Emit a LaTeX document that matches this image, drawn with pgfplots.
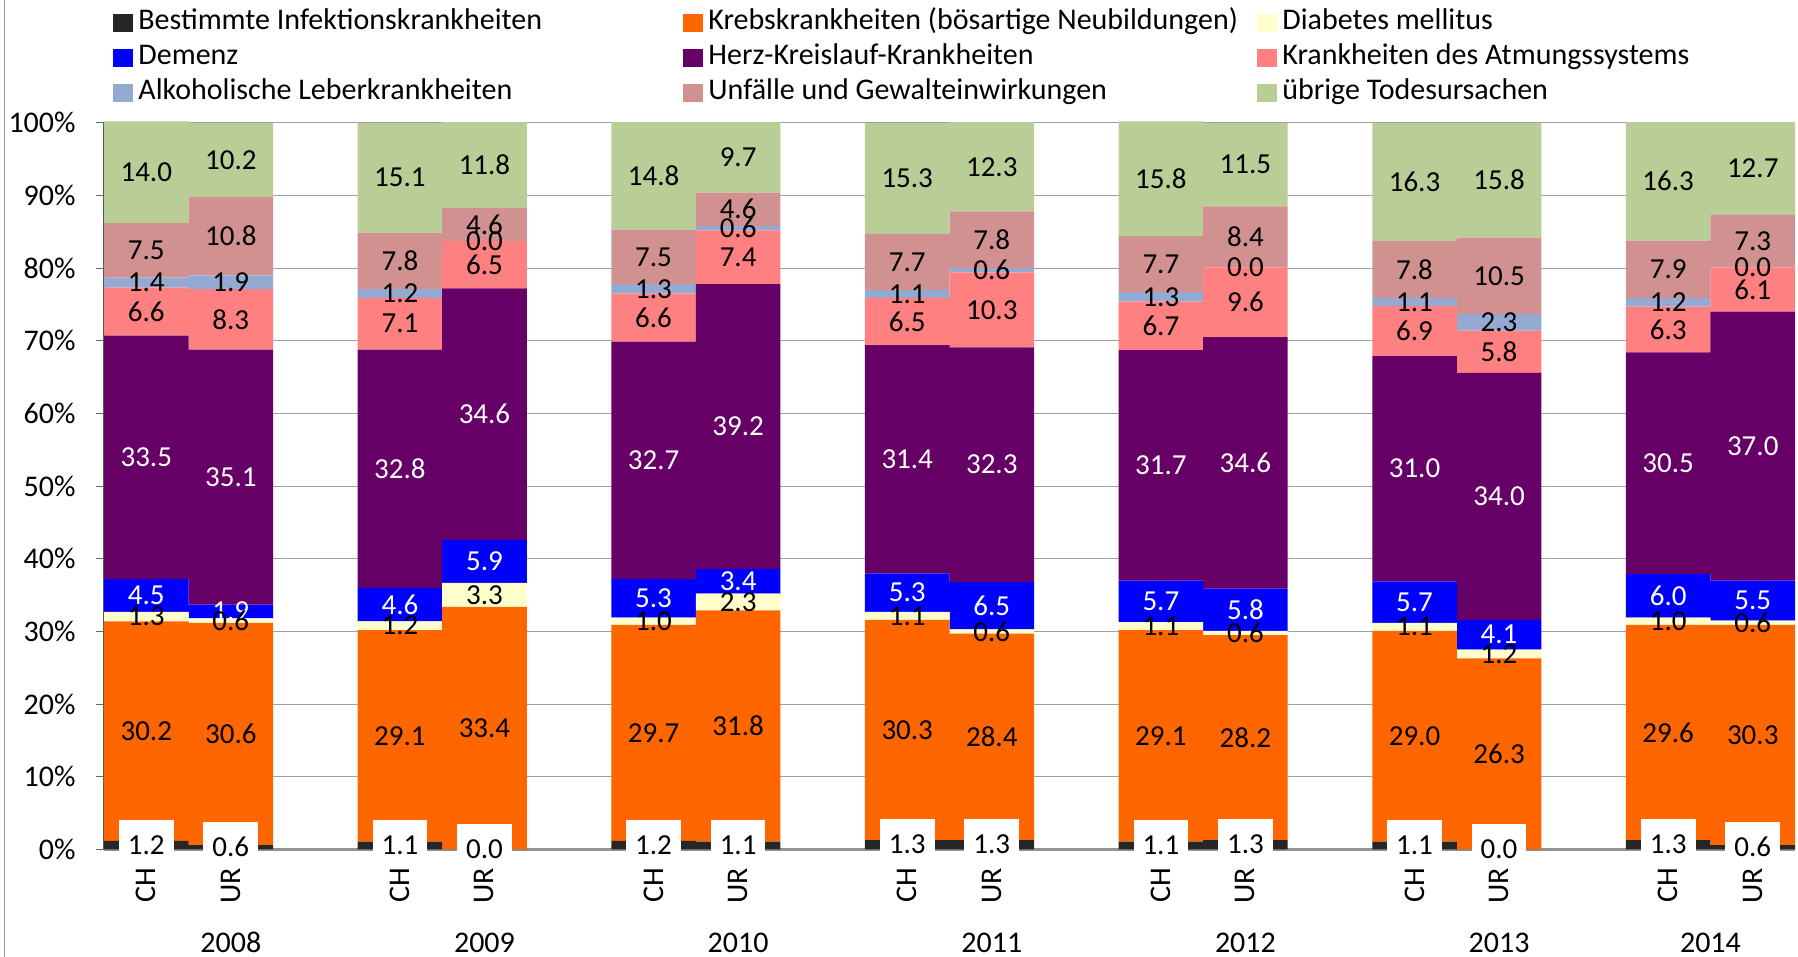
\documentclass[border=0pt]{standalone}
\usepackage{fontspec}
\setmainfont{Carlito}
\usepackage{pgfplots}
\usepackage{pgfplotstable}
\pgfplotsset{compat=1.18}

\definecolor{cInf}{RGB}{38,38,38}
\definecolor{cKrebs}{RGB}{255,102,0}
\definecolor{cDiab}{RGB}{255,255,204}
\definecolor{cDem}{RGB}{0,0,255}
\definecolor{cHerz}{RGB}{102,0,102}
\definecolor{cAtm}{RGB}{255,128,128}
\definecolor{cAlk}{RGB}{149,170,210}
\definecolor{cUnf}{RGB}{210,145,145}
\definecolor{cUeb}{RGB}{185,205,150}

% Anteile in %, CH und UR je Jahr (Lücke bei 2, 5, 8, ...)
\pgfplotstableread{
x  inf  kreb  diab  dem  herz  atm   alk  unf   ueb
0  1.2  30.2  1.3   4.5  33.5  6.6   1.4  7.5   14.0
1  0.6  30.6  0.6   1.9  35.1  8.3   1.9  10.8  10.2
3  1.1  29.1  1.2   4.6  32.8  7.1   1.2  7.8   15.1
4  0.0  33.4  3.3   5.9  34.6  6.5   0.0  4.6   11.8
6  1.2  29.7  1.0   5.3  32.7  6.6   1.3  7.5   14.8
7  1.1  31.8  2.3   3.4  39.2  7.4   0.6  4.6   9.7
9  1.3  30.3  1.1   5.3  31.4  6.5   1.1  7.7   15.3
10 1.3  28.4  0.6   6.5  32.3  10.3  0.6  7.8   12.3
12 1.1  29.1  1.1   5.7  31.7  6.7   1.3  7.7   15.8
13 1.3  28.2  0.6   5.8  34.6  9.6   0.0  8.4   11.5
15 1.1  29.0  1.1   5.7  31.0  6.9   1.1  7.8   16.3
16 0.0  26.3  1.2   4.1  34.0  5.8   2.3  10.5  15.8
18 1.3  29.6  1.0   6.0  30.5  6.3   1.2  7.9   16.3
19 0.6  30.3  0.6   5.5  37.0  6.1   0.0  7.3   12.7
}\data

\pgfplotsset{
  seg/.style={fill=#1, draw=none,
    legend image code/.code={\fill[#1] (0pt,-4.5pt) rectangle (10pt,4.5pt);}},
  whitelbl/.style={every node near coord/.append style={text=white}},
}

\begin{document}
\fontsize{15}{17}\selectfont
\begin{tikzpicture}
\begin{axis}[
  at={(52pt,53.75pt)}, anchor=south west,
  scale only axis, width=845.5pt, height=363.35pt,
  set layers=standard, mark layer=axis foreground,
  ybar stacked, bar width=1, stacked ignores zero=false,
  xmin=-0.5, xmax=19.5, ymin=0, ymax=100,
  clip=false,
  axis x line*=bottom, axis y line*=left,
  x axis line style={draw=gray!85, line width=1.2pt, -},
  y axis line style={draw=black!65, line width=0.6pt, -},
  xtick={0,1,3,4,6,7,9,10,12,13,15,16,18,19},
  xticklabels={CH,UR,CH,UR,CH,UR,CH,UR,CH,UR,CH,UR,CH,UR},
  xtick style={draw=none},
  xticklabel style={rotate=90, anchor=east, inner sep=0pt},
  xticklabel shift=5pt,
  ytick={0,10,...,100},
  yticklabel={\pgfmathprintnumber{\tick}\%},
  ytick style={draw=black!60, line width=0.6pt},
  tick align=outside, major tick length=4pt,
  yticklabel style={anchor=east, inner sep=0pt},
  yticklabel shift=10pt,
  ymajorgrids, grid style={draw=black!37, line width=0.6pt},
  /pgf/number format/assume math mode=true,
  nodes near coords={\pgfmathprintnumber[fixed,fixed zerofill,precision=1]{\pgfplotspointmeta}},
  every node near coord/.append style={anchor=center,
    inner sep=0pt, text=black, font=\fontsize{14.5}{17}\selectfont},
  legend columns=3, legend cell align=left,
  legend style={draw=none, fill=none, at={(rel axis cs:0.00532,1.1621)}, anchor=north west,
    inner sep=0pt, column sep=0pt, row sep=0pt,
    nodes={inner sep=0pt, text height=12pt, text depth=5.5pt}},
]
\addplot+[seg=cInf, every node near coord/.append style={fill=white, inner xsep=4.5pt,
    text height=17.3pt, text depth=2.7pt, yshift=2.7pt}] table[x=x, y=inf] {\data};
\addlegendentry{\makebox[275pt][l]{\hspace{2.5pt}Bestimmte Infektionskrankheiten}}
\addplot+[seg=cKrebs] table[x=x, y=kreb] {\data};
\addlegendentry{\makebox[277pt][l]{\hspace{2.5pt}Krebskrankheiten (bösartige Neubildungen)}}
\addplot+[seg=cDiab] table[x=x, y=diab] {\data};
\addlegendentry{\hspace{2.5pt}Diabetes mellitus}
\addplot+[seg=cDem, whitelbl] table[x=x, y=dem] {\data};
\addlegendentry{\makebox[275pt][l]{\hspace{2.5pt}Demenz}}
\addplot+[seg=cHerz, whitelbl] table[x=x, y=herz] {\data};
\addlegendentry{\makebox[277pt][l]{\hspace{2.5pt}Herz-Kreislauf-Krankheiten}}
\addplot+[seg=cAtm] table[x=x, y=atm] {\data};
\addlegendentry{\hspace{2.5pt}Krankheiten des Atmungssystems}
\addplot+[seg=cAlk] table[x=x, y=alk] {\data};
\addlegendentry{\makebox[275pt][l]{\hspace{2.5pt}Alkoholische Leberkrankheiten}}
\addplot+[seg=cUnf] table[x=x, y=unf] {\data};
\addlegendentry{\makebox[277pt][l]{\hspace{2.5pt}Unfälle und Gewalteinwirkungen}}
\addplot+[seg=cUeb] table[x=x, y=ueb] {\data};
\addlegendentry{\hspace{2.5pt}übrige Todesursachen}
\node at (axis cs:1,0) [yshift=-46.5pt] {2008};
\node at (axis cs:4,0) [yshift=-46.5pt] {2009};
\node at (axis cs:7,0) [yshift=-46.5pt] {2010};
\node at (axis cs:10,0) [yshift=-46.5pt] {2011};
\node at (axis cs:13,0) [yshift=-46.5pt] {2012};
\node at (axis cs:16,0) [yshift=-46.5pt] {2013};
\node at (axis cs:18.5,0) [yshift=-46.5pt] {2014};
\end{axis}
\draw[gray!80, line width=0.5pt] (2.25pt,0) -- (2.25pt,478.5pt);
\pgfresetboundingbox
\path[use as bounding box] (0,0) rectangle (899pt,478.5pt);
\end{tikzpicture}
\end{document}
